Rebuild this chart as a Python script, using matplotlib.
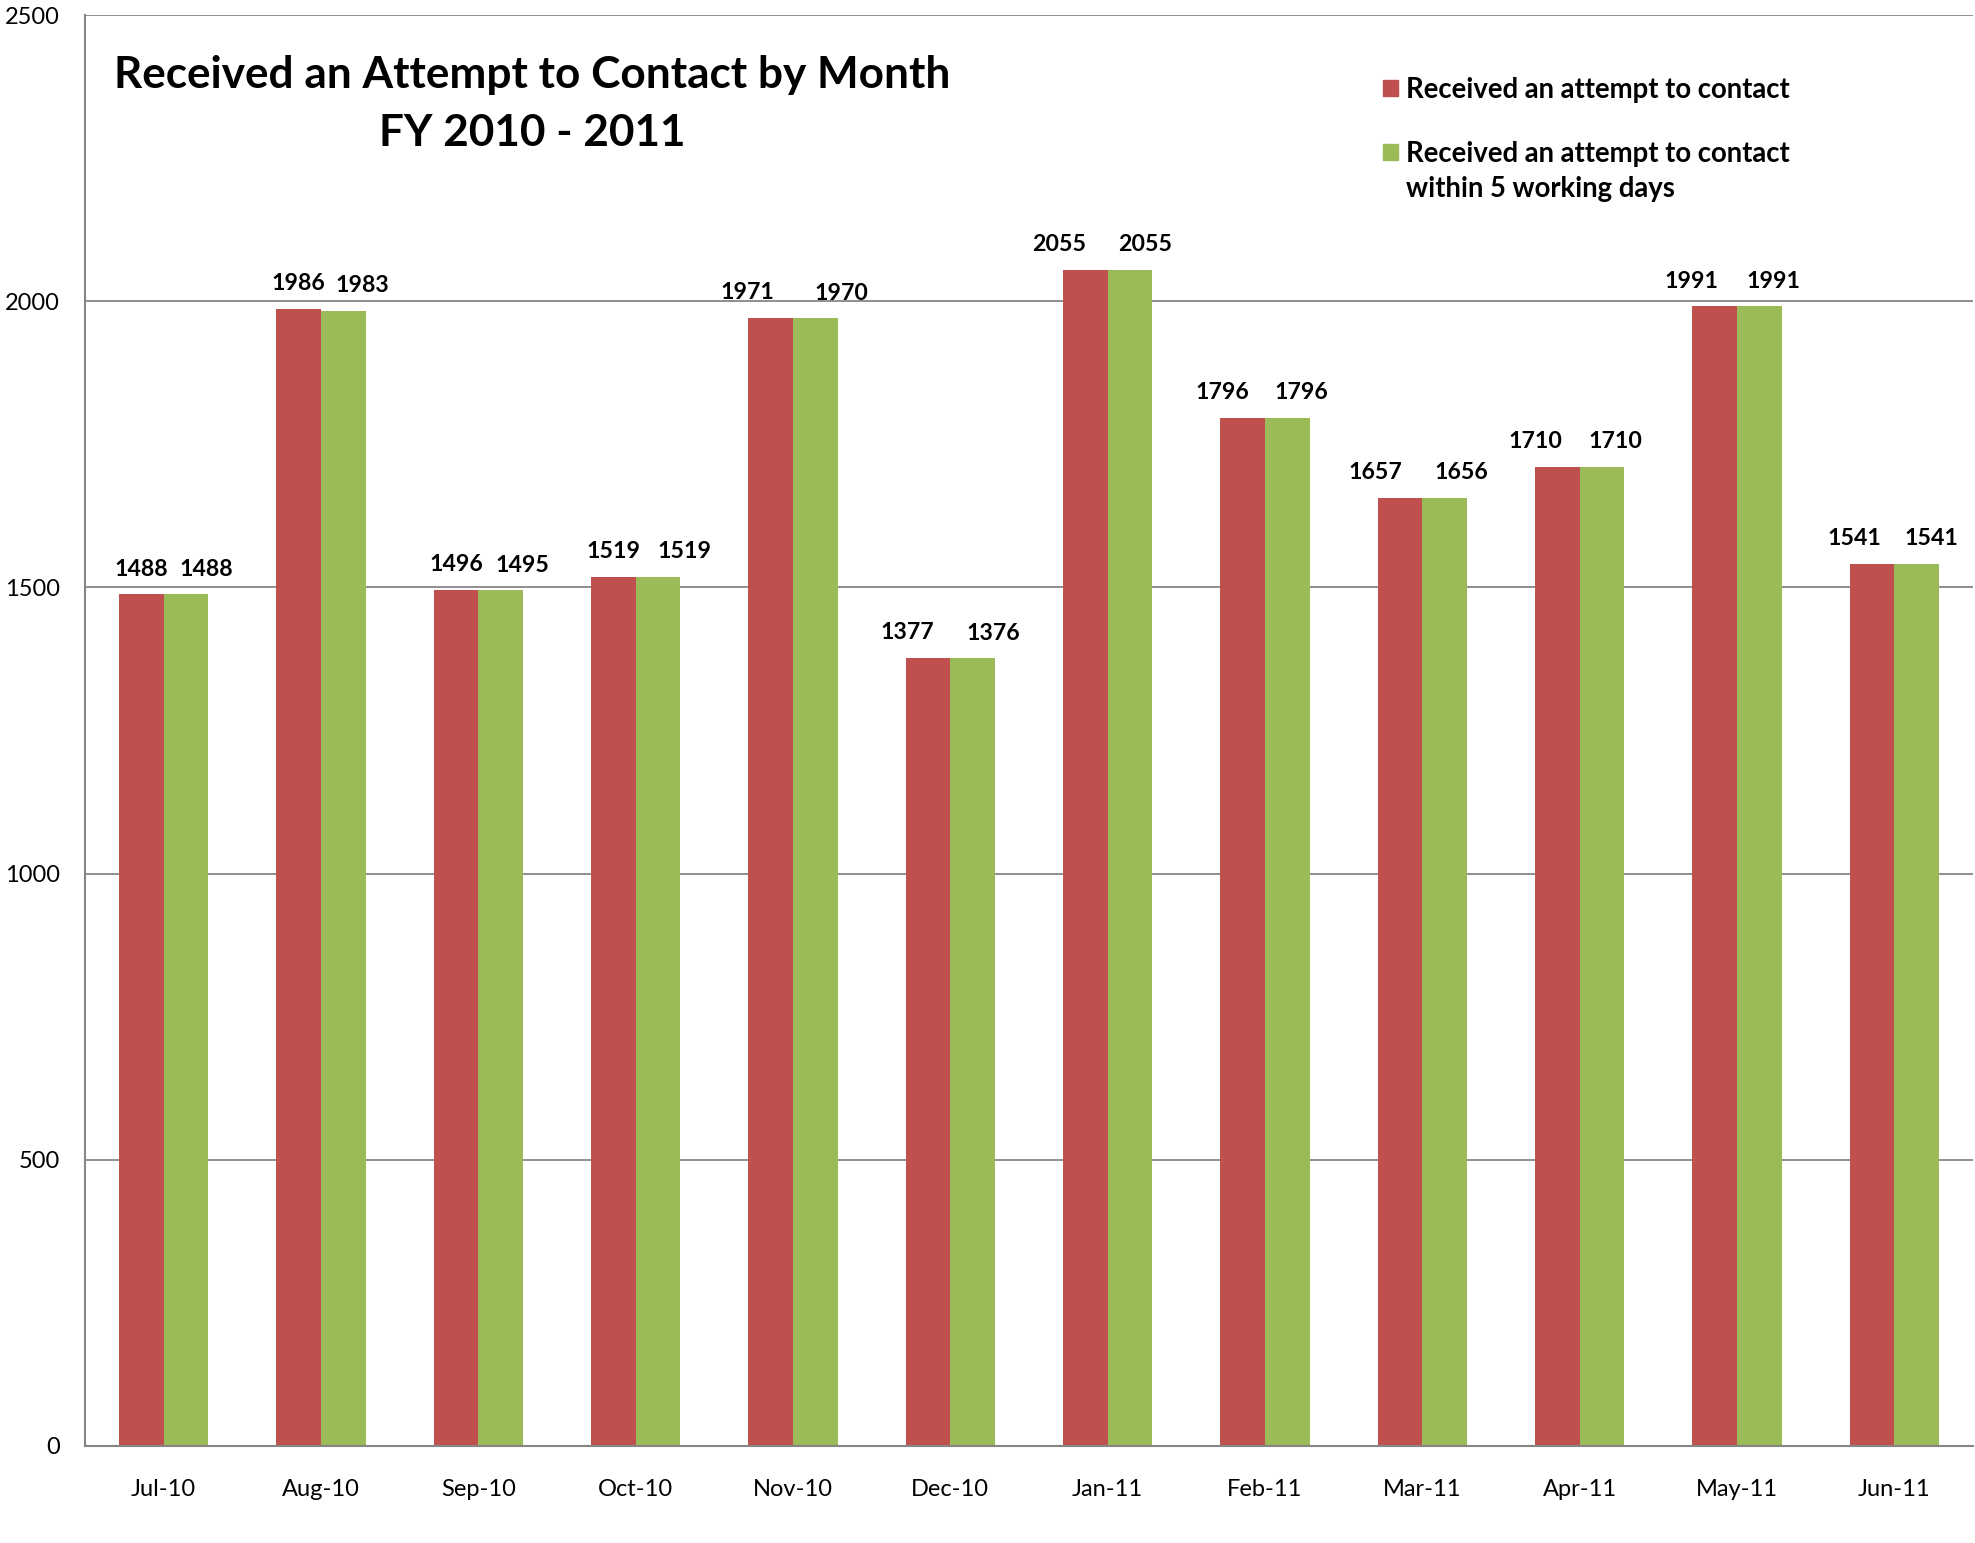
import matplotlib
matplotlib.use("Agg")
import matplotlib.pyplot as plt
from matplotlib.patches import Rectangle
import numpy as np

# ---- data ----
months = ["Jul-10", "Aug-10", "Sep-10", "Oct-10", "Nov-10", "Dec-10",
          "Jan-11", "Feb-11", "Mar-11", "Apr-11", "May-11", "Jun-11"]
received = [1488, 1986, 1496, 1519, 1971, 1377, 2055, 1796, 1657, 1710, 1991, 1541]
within5 = [1488, 1983, 1495, 1519, 1970, 1376, 2055, 1796, 1656, 1710, 1991, 1541]
series_names = [["Received an attempt to contact"],
                ["Received an attempt to contact", "within 5 working days"]]
yticks = [0, 500, 1000, 1500, 2000, 2500]

# ---- style ----
red = "#C0504D"
green = "#9BBB59"
grey = "#868686"
# horizontal nudges of the data labels (points), as placed in the original
nudge_red = [0, 0, 0, 0, -17, -15, -19, -15, -18, -16, -17, -13]
nudge_green = [15, 14, 16, 19, 19, 15, 11, 10, 12, 10, 10, 11]

plt.rcParams['font.family'] = ['Lato', 'DejaVu Sans']

W, H = 1975, 1543
fig = plt.figure(figsize=(W / 100, H / 100), dpi=100)
ax = fig.add_axes([85 / W, 1 - 1446 / H, (1973 - 85) / W, (1446 - 15) / H])

x = np.arange(len(months))
bw = 0.283
b1 = ax.bar(x - bw / 2, received, bw, color=red, zorder=3)
b2 = ax.bar(x + bw / 2, within5, bw, color=green, zorder=3)

for bars, vals, nud in ((b1, received, nudge_red), (b2, within5, nudge_green)):
    for rect, v, n in zip(bars, vals, nud):
        ax.annotate(f"{v}", (rect.get_x() + rect.get_width() / 2, v),
                    xytext=(n, 13.5), textcoords="offset points",
                    ha="center", va="baseline", fontsize=16.7,
                    fontweight="bold", color="black")

ax.set_xlim(-0.5, len(months) - 0.5)
ax.set_ylim(0, 2500)
ax.set_yticks(yticks)
ax.set_xticks(x)
ax.set_xticklabels(months)
ax.tick_params(axis="both", length=0, labelsize=17)
ax.tick_params(axis="y", pad=18)
ax.tick_params(axis="x", pad=24)
ax.grid(axis="y", color=grey, linewidth=1.3, zorder=0)
ax.set_axisbelow(True)
for s in ("top", "right"):
    ax.spines[s].set_visible(False)
for s in ("left", "bottom"):
    ax.spines[s].set_color(grey)
    ax.spines[s].set_linewidth(1.5)
    ax.spines[s].set_zorder(4)

# title
fig.text(532 / W, 1 - 75 / H, "Received an Attempt to Contact by Month",
         ha="center", va="center", fontsize=31.8, fontweight="bold")
fig.text(532 / W, 1 - 133 / H, "FY 2010 - 2011",
         ha="center", va="center", fontsize=31.8, fontweight="bold")

# legend (manual)
for col, lines, yc in ((red, series_names[0], 88), (green, series_names[1], 152)):
    fig.patches.append(Rectangle((1383 / W, 1 - (yc + 8) / H), 15 / W, 16 / H,
                                 transform=fig.transFigure, color=col,
                                 figure=fig))
    for i, line in enumerate(lines):
        fig.text(1406 / W, 1 - (yc + 10 + 35 * i) / H, line, ha="left",
                 va="baseline", fontsize=19.8, fontweight="bold")

fig.savefig("out.png", dpi=100)
